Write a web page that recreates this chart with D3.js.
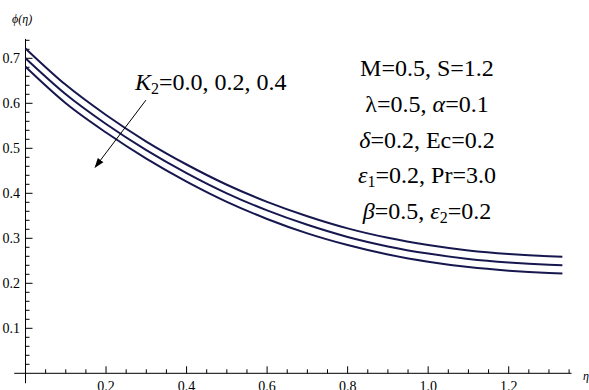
<!DOCTYPE html>
<html>
<head>
<meta charset="utf-8">
<script src="https://cdn.jsdelivr.net/npm/d3@7"></script>
<style>
  body { margin: 0; background: #fff; }
  svg { display: block; }
  text { font-family: "Liberation Serif", "Times New Roman", serif; fill: #000; }
</style>
</head>
<body>
<svg id="chart" width="589" height="390"></svg>
<script>
// eta values along the x axis
const etaValues = [0, 0.1, 0.2, 0.3, 0.4, 0.5, 0.6, 0.7, 0.8, 0.9, 1.0, 1.1, 1.2, 1.3, 1.3333];
// phi(eta) for K2 = 0.0, 0.2, 0.4
const phiK2_00 = [0.722, 0.641, 0.574, 0.515, 0.464, 0.419, 0.381, 0.349, 0.322, 0.301, 0.285, 0.273, 0.265, 0.260, 0.259];
const phiK2_02 = [0.700, 0.620, 0.554, 0.496, 0.445, 0.400, 0.362, 0.330, 0.303, 0.282, 0.266, 0.254, 0.246, 0.241, 0.240];
const phiK2_04 = [0.681, 0.600, 0.535, 0.477, 0.426, 0.381, 0.343, 0.311, 0.285, 0.264, 0.248, 0.236, 0.228, 0.223, 0.222];
const seriesList = [phiK2_00, phiK2_02, phiK2_04];

const xMajorTicks = [0.2, 0.4, 0.6, 0.8, 1.0, 1.2];
const yMajorTicks = [0.1, 0.2, 0.3, 0.4, 0.5, 0.6, 0.7];
const paramLines = [
  [["M=0.5, S=1.2"]],
  [["λ"], ["=0.5, "], ["α", "i"], ["=0.1"]],
  [["δ", "i"], ["=0.2, Ec=0.2"]],
  [["ε", "i"], ["1", "sub"], ["=0.2, Pr=3.0"]],
  [["β", "i"], ["=0.5, "], ["ε", "i"], ["2", "sub"], ["=0.2"]]
];

const svg = d3.select("#chart");
const x = d3.scaleLinear().domain([0, 1.2]).range([25.5, 508.7]);
const y = d3.scaleLinear().domain([0, 0.7]).range([373.3, 58.3]);

const lineColor = "#17174f";

// axes
const axes = svg.append("g").attr("stroke", "#000").attr("stroke-width", 1);
axes.append("line")
  .attr("x1", x(-0.028)).attr("x2", x(1.356))
  .attr("y1", y(0)).attr("y2", y(0));
axes.append("line")
  .attr("x1", x(0)).attr("x2", x(0))
  .attr("y1", y(-0.022)).attr("y2", y(0.743));

const xMinor = d3.range(1, 28).map(i => i * 0.05).filter(v => Math.abs(v * 5 - Math.round(v * 5)) > 1e-6);
const yMinor = d3.range(1, 38).map(i => i * 0.02).filter(v => Math.abs(v * 10 - Math.round(v * 10)) > 1e-6);

axes.selectAll("line.xmaj").data(xMajorTicks).enter().append("line")
  .attr("class", "xmaj")
  .attr("x1", d => x(d)).attr("x2", d => x(d))
  .attr("y1", y(0)).attr("y2", y(0) - 7);
axes.selectAll("line.xmin").data(xMinor).enter().append("line")
  .attr("class", "xmin")
  .attr("x1", d => x(d)).attr("x2", d => x(d))
  .attr("y1", y(0)).attr("y2", y(0) - 4);
axes.selectAll("line.ymaj").data(yMajorTicks).enter().append("line")
  .attr("class", "ymaj")
  .attr("x1", x(0)).attr("x2", x(0) + 7)
  .attr("y1", d => y(d)).attr("y2", d => y(d));
axes.selectAll("line.ymin").data(yMinor).enter().append("line")
  .attr("class", "ymin")
  .attr("x1", x(0)).attr("x2", x(0) + 4)
  .attr("y1", d => y(d)).attr("y2", d => y(d));

svg.selectAll("text.xlab").data(xMajorTicks).enter().append("text")
  .attr("class", "xlab")
  .attr("x", d => x(d)).attr("y", y(0) + 17.5)
  .attr("text-anchor", "middle").attr("font-size", 14)
  .text(d => d.toFixed(1));
svg.selectAll("text.ylab").data(yMajorTicks).enter().append("text")
  .attr("class", "ylab")
  .attr("x", 20).attr("y", d => y(d)).attr("dy", "0.35em")
  .attr("text-anchor", "end").attr("font-size", 14)
  .text(d => d.toFixed(1));

// axis labels
svg.append("text").attr("x", 12).attr("y", 23).attr("font-size", 12)
  .attr("font-style", "italic").text("ϕ(η)");
svg.append("text").attr("x", 583).attr("y", 380).attr("font-size", 12)
  .attr("font-style", "italic").text("η");

// curves
const line = d3.line()
  .x((d, i) => x(etaValues[i]))
  .y(d => y(d))
  .curve(d3.curveMonotoneX);

svg.append("g").selectAll("path").data(seriesList).enter().append("path")
  .attr("d", line)
  .attr("fill", "none")
  .attr("stroke", lineColor)
  .attr("stroke-width", 2);

// arrow annotation
svg.append("defs").append("marker")
  .attr("id", "arrowhead")
  .attr("viewBox", "0 0 10 10").attr("refX", 9).attr("refY", 5)
  .attr("markerWidth", 10).attr("markerHeight", 10)
  .attr("markerUnits", "userSpaceOnUse")
  .attr("orient", "auto")
  .append("path").attr("d", "M0,1.5 L10,5 L0,8.5 z").attr("fill", "#000");

svg.append("line")
  .attr("x1", x(0.299)).attr("y1", y(0.607))
  .attr("x2", x(0.173)).attr("y2", y(0.458))
  .attr("stroke", "#000").attr("stroke-width", 1)
  .attr("marker-end", "url(#arrowhead)");

const k2 = svg.append("text").attr("x", 135).attr("y", 90).attr("font-size", 24);
k2.append("tspan").attr("font-style", "italic").text("K");
k2.append("tspan").attr("font-size", 16).attr("dy", 4).text("2");
k2.append("tspan").attr("dy", -4).text("=0.0, 0.2, 0.4");

// parameter block
const paramG = svg.append("g");
paramLines.forEach((parts, i) => {
  const t = paramG.append("text")
    .attr("x", 427).attr("y", 76 + i * 35.8)
    .attr("text-anchor", "middle").attr("font-size", 24);
  let shifted = false;
  parts.forEach(p => {
    const s = t.append("tspan").text(p[0]);
    if (p[1] === "i") s.attr("font-style", "italic");
    if (p[1] === "sub") { s.attr("font-size", 16).attr("dy", 4); shifted = true; }
    else if (shifted) { s.attr("dy", -4); shifted = false; }
  });
});
</script>
</body>
</html>
